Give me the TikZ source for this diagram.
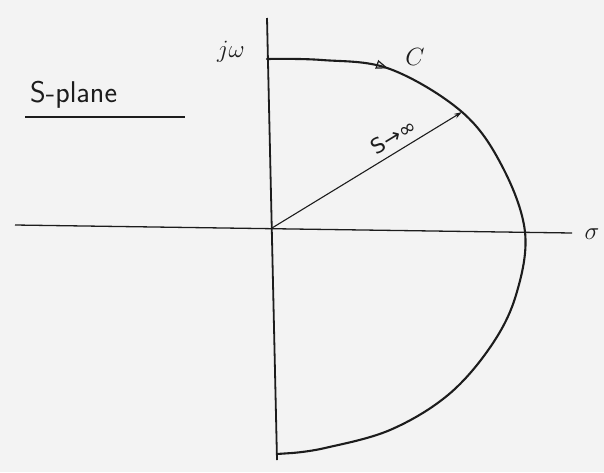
\documentclass[tikz,border=0pt]{standalone}
\usepackage{amsmath,amssymb}
\usepackage{fontspec}
\usepackage{tikz}
\usetikzlibrary{arrows.meta,positioning,calc,decorations.markings}
\newfontfamily\symfont{DejaVu Sans}
\definecolor{paper}{HTML}{F3F3F3}
\definecolor{ink}{HTML}{1C1C1C}

\begin{document}
\begin{tikzpicture}[x=1pt,y=-1pt,>=Stealth,
  axisline/.style={draw=ink,line width=1.8pt},
  contour/.style={draw=ink,line width=2.1pt,line cap=round,line join=round},
  radiusline/.style={draw=ink,line width=1.1pt},
  hand/.style={text=ink,inner sep=0pt}]
  \fill[paper] (0,0) rectangle (604,472);
  \useasboundingbox (0,0) rectangle (604,472);
  % axes
  \coordinate (o) at (272,228);
  \coordinate (jtop) at (267,18);
  \coordinate (jbot) at (277,460);
  \coordinate (sleft) at (15,225);
  \coordinate (sright) at (572,233);
  \draw[axisline] (jtop) -- (jbot);
  \draw[axisline,line width=1.3pt] (sleft) -- (sright);
  % contour C
  \coordinate (r) at (462,112);
  \draw[contour,decoration={markings,
      mark=at position 0.17 with {\arrow{Triangle[open,length=12pt,width=9pt,line width=1.2pt]}}},
    postaction=decorate]
    plot[smooth,tension=0.6] coordinates {(267,59) (322,60) (390,69) (r)
      (502,166) (525,232) (516,295) (491,346) (448,395) (390,430) (325,448) (292,453)}
    -- (277,454);
  % radius
  \draw[radiusline,-{Stealth[length=8pt,width=5pt]}] (o) -- node[pos=0.68,sloped,above=6pt,hand,
    font=\fontsize{21}{23}\selectfont\symfont] (slabel) {S→∞} (r);
  % labels
  \node[hand,font=\fontsize{26}{28}\selectfont] (jw) at (231,52) {$j\omega$};
  \node[hand,font=\fontsize{28}{30}\selectfont] (clabel) at (415,57) {$C$};
  \node[hand,font=\fontsize{30}{32}\selectfont] (sigma) at (592,234) {$\sigma$};
  \node[hand,font=\fontsize{30}{32}\selectfont\sffamily,anchor=base west] (splane) at (30,102) {S-plane};
  \draw[ink,line width=1.6pt] (25,117) -- (185,117);
\end{tikzpicture}
\end{document}
